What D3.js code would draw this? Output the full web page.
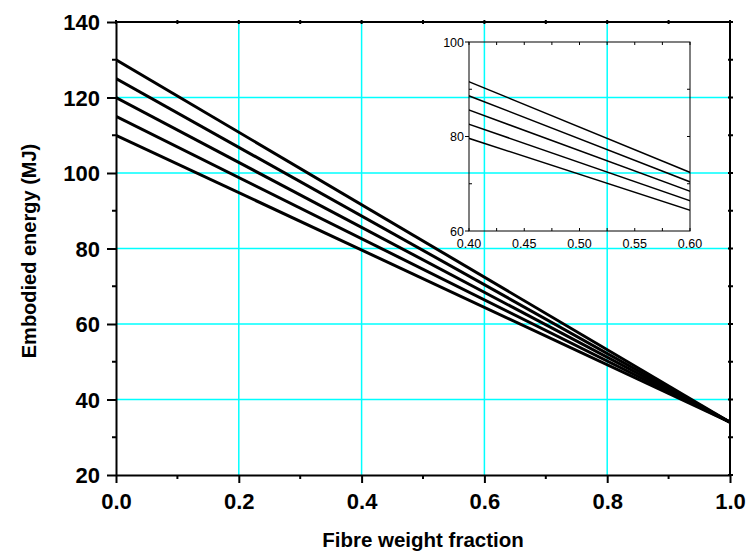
<!DOCTYPE html>
<html>
<head>
<meta charset="utf-8">
<script src="https://cdn.jsdelivr.net/npm/d3@7"></script>
<style>
  html, body { margin: 0; padding: 0; background: #fff; }
  svg { display: block; font-family: Arial, "Liberation Sans", sans-serif; }
</style>
</head>
<body>
<svg id="chart" width="748" height="553"></svg>
<script>
// Fibre weight fraction at the two ends of each line
const fibreFraction = [0, 1];
// Embodied energy (MJ) for each matrix case, at fraction 0 and 1
const series130 = [130, 34];
const series125 = [125, 34];
const series120 = [120, 34];
const series115 = [115, 34];
const series110 = [110, 34];
const allSeries = [series130, series125, series120, series115, series110];

const xTicks = [0.0, 0.2, 0.4, 0.6, 0.8, 1.0];
const yTicks = [20, 40, 60, 80, 100, 120, 140];
const insetXTicks = [0.40, 0.45, 0.50, 0.55, 0.60];
const insetYTicks = [60, 80, 100];

const svg = d3.select("#chart");

// ---- main plot ----
const m = { left: 116, right: 730, top: 22, bottom: 475 };
const x = d3.scaleLinear().domain([0, 1]).range([m.left, m.right]);
const y = d3.scaleLinear().domain([20, 140]).range([m.bottom, m.top]);

// cyan grid
const grid = svg.append("g").attr("stroke", "#00ffff").attr("stroke-width", 1.5);
grid.selectAll("line.v").data(xTicks.filter(d => d > 0 && d < 1)).join("line")
  .attr("x1", d => x(d)).attr("x2", d => x(d)).attr("y1", m.top).attr("y2", m.bottom);
grid.selectAll("line.h").data(yTicks.filter(d => d > 20 && d < 140)).join("line")
  .attr("y1", d => y(d)).attr("y2", d => y(d)).attr("x1", m.left).attr("x2", m.right);

const lineGen = (sx, sy) => d3.line().x((d, i) => sx(fibreFraction[i])).y(d => sy(d));

svg.append("defs").append("clipPath").attr("id", "mainClip")
  .append("rect").attr("x", m.left).attr("y", m.top)
  .attr("width", m.right - m.left).attr("height", m.bottom - m.top);

svg.append("g").attr("clip-path", "url(#mainClip)")
  .selectAll("path").data(allSeries).join("path")
  .attr("d", lineGen(x, y))
  .attr("fill", "none").attr("stroke", "#000").attr("stroke-width", 3);

// axes
const minorX = d3.range(0, 1.0001, 0.1);
const minorY = d3.range(20, 140.001, 10);

const xAxis = svg.append("g").attr("transform", `translate(0,${m.bottom})`)
  .call(d3.axisBottom(x).tickValues(xTicks).tickFormat(d3.format(".1f")).tickSize(8).tickSizeOuter(0));
const yAxis = svg.append("g").attr("transform", `translate(${m.left},0)`)
  .call(d3.axisLeft(y).tickValues(yTicks).tickFormat(d3.format("d")).tickSize(9).tickSizeOuter(0));

[xAxis, yAxis].forEach(g => {
  g.select(".domain").attr("stroke", "#000").attr("stroke-width", 2);
  g.selectAll(".tick line").attr("stroke", "#000").attr("stroke-width", 2);
  g.selectAll(".tick text").attr("fill", "#000").attr("font-size", 22)
    .attr("font-weight", "bold").attr("font-family", "Arial, 'Liberation Sans', sans-serif");
});
xAxis.selectAll(".tick text").attr("dy", 0).attr("y", 34);
yAxis.selectAll(".tick text").attr("x", -16).attr("dy", "0.36em");

// minor ticks on bottom/left
const minor = svg.append("g").attr("stroke", "#000").attr("stroke-width", 2);
minor.selectAll("line.mx").data(minorX.filter(d => Math.round(d * 10) % 2 === 1)).join("line")
  .attr("x1", d => x(d)).attr("x2", d => x(d)).attr("y1", m.bottom).attr("y2", m.bottom + 4);
minor.selectAll("line.my").data(minorY.filter(d => Math.round(d) % 20 === 10)).join("line")
  .attr("y1", d => y(d)).attr("y2", d => y(d)).attr("x1", m.left - 4).attr("x2", m.left);

// top and right frame lines with small ticks
svg.append("line").attr("x1", m.left).attr("x2", m.right + 1).attr("y1", m.top).attr("y2", m.top)
  .attr("stroke", "#000").attr("stroke-width", 2);
svg.append("line").attr("x1", m.right).attr("x2", m.right).attr("y1", m.top).attr("y2", m.bottom)
  .attr("stroke", "#000").attr("stroke-width", 2);
minor.selectAll("line.tx").data(minorX).join("line")
  .attr("x1", d => x(d)).attr("x2", d => x(d)).attr("y1", m.top - 2).attr("y2", m.top + 2);
minor.selectAll("line.ry").data(minorY).join("line")
  .attr("y1", d => y(d)).attr("y2", d => y(d)).attr("x1", m.right - 2).attr("x2", m.right + 3);

// axis titles
svg.append("text").attr("x", (m.left + m.right) / 2).attr("y", 547)
  .attr("text-anchor", "middle").attr("font-size", 20.5).attr("font-weight", "bold")
  .text("Fibre weight fraction");
svg.append("text").attr("transform", `translate(36,251) rotate(-90)`)
  .attr("text-anchor", "middle").attr("font-size", 20).attr("font-weight", "bold")
  .text("Embodied energy (MJ)");

// ---- inset: zoom on 0.40 - 0.60 ----
const n = { left: 469, right: 690, top: 42, bottom: 231 };
const xi = d3.scaleLinear().domain([0.40, 0.60]).range([n.left, n.right]);
const yi = d3.scaleLinear().domain([60, 100]).range([n.bottom, n.top]);

svg.select("defs").append("clipPath").attr("id", "insetClip")
  .append("rect").attr("x", n.left).attr("y", n.top)
  .attr("width", n.right - n.left).attr("height", n.bottom - n.top);

svg.append("g").attr("clip-path", "url(#insetClip)")
  .selectAll("path").data(allSeries).join("path")
  .attr("d", lineGen(xi, yi))
  .attr("fill", "none").attr("stroke", "#000").attr("stroke-width", 1.5);

const inset = svg.append("g").attr("stroke", "#000").attr("stroke-width", 1);
inset.append("rect").attr("x", n.left).attr("y", n.top)
  .attr("width", n.right - n.left).attr("height", n.bottom - n.top).attr("fill", "none");

const insetMinorX = d3.range(0.40, 0.6001, 0.025);
inset.selectAll("line.bx").data(insetMinorX).join("line")
  .attr("x1", d => xi(d)).attr("x2", d => xi(d)).attr("y1", n.bottom).attr("y2", n.bottom - 3);
inset.selectAll("line.tx").data(insetMinorX).join("line")
  .attr("x1", d => xi(d)).attr("x2", d => xi(d)).attr("y1", n.top).attr("y2", n.top + 3);
inset.selectAll("line.ly").data(insetYTicks).join("line")
  .attr("y1", d => yi(d)).attr("y2", d => yi(d)).attr("x1", n.left - 4).attr("x2", n.left);
inset.selectAll("line.lmy").data([70, 90]).join("line")
  .attr("y1", d => yi(d)).attr("y2", d => yi(d)).attr("x1", n.left).attr("x2", n.left + 3);
inset.selectAll("line.ry").data([70, 80, 90]).join("line")
  .attr("y1", d => yi(d)).attr("y2", d => yi(d)).attr("x1", n.right).attr("x2", n.right - 3);

svg.append("g").selectAll("text").data(insetXTicks).join("text")
  .attr("x", d => xi(d)).attr("y", n.bottom + 17).attr("text-anchor", "middle")
  .attr("font-size", 12.5).attr("fill", "#000").text(d => d3.format(".2f")(d));
svg.append("g").selectAll("text").data(insetYTicks).join("text")
  .attr("x", n.left - 5).attr("y", d => yi(d) + 4.5).attr("text-anchor", "end")
  .attr("font-size", 12.5).attr("fill", "#000").text(d => d);
</script>
</body>
</html>
